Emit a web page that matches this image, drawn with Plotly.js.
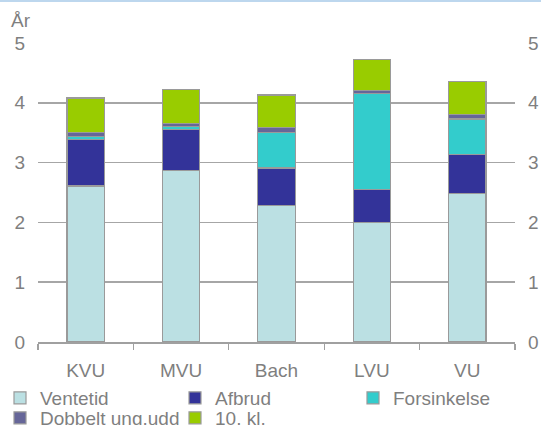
<!DOCTYPE html>
<html>
<head>
<meta charset="utf-8">
<script src="https://cdn.plot.ly/plotly-3.0.1.min.js"></script>
<style>
html,body{margin:0;padding:0;background:#fff;}
#topline{position:absolute;left:0;top:0;width:541px;height:2px;background:#BDD7EE;z-index:5;}
#chart{width:541px;height:425px;}
</style>
</head>
<body>
<div id="topline"></div>
<div id="chart"></div>
<script>
const categories = ["KVU", "MVU", "Bach", "LVU", "VU"];
const ventetid     = [2.61, 2.87, 2.28, 2.00, 2.49];
const afbrud       = [0.77, 0.68, 0.63, 0.55, 0.64];
const forsinkelse  = [0.05, 0.06, 0.59, 1.60, 0.60];
const dobbelt      = [0.08, 0.05, 0.09, 0.06, 0.08];
const tiende       = [0.57, 0.56, 0.54, 0.51, 0.54];
const seriesNames  = ["Ventetid", "Afbrud", "Forsinkelse", "Dobbelt ung.udd", "10. kl."];
const seriesColors = ["#BBE0E3", "#333399", "#33CCCC", "#666699", "#99CC00"];
const yTicks = [0, 1, 2, 3, 4, 5];

// legend placement (px in the 541x425 page) for each series entry
const legendIds = ["legend", "legend2", "legend3", "legend4", "legend5"];
const legendX   = [-2, 175, 353, -2, 175];
const legendY   = [379, 379, 379, 399, 399];

const seriesValues = [ventetid, afbrud, forsinkelse, dobbelt, tiende];
const traces = seriesValues.map((vals, i) => ({
  type: "bar",
  name: seriesNames[i],
  x: categories,
  y: vals,
  legend: legendIds[i],
  marker: {color: seriesColors[i], line: {color: "#9A9A9A", width: 1.2}},
  hoverinfo: "skip"
}));
// invisible trace for right axis
traces.push({type: "scatter", x: categories, y: [null,null,null,null,null], yaxis: "y2", showlegend: false, hoverinfo: "skip"});

const W = 541, H = 425;
const FAM = "Liberation Sans, Arial, sans-serif";
const tickFont = {family: FAM, size: 19, color: "#7F7F7F"};

const layout = {
  width: W, height: H,
  margin: {l: 38, r: 26, t: 43, b: 83, pad: 0},
  paper_bgcolor: "#fff", plot_bgcolor: "#fff",
  barmode: "stack",
  bargap: 0.606,
  font: tickFont,
  showlegend: true,
  xaxis: {
    type: "category",
    showgrid: false,
    showline: true, linecolor: "#A0A0A0", linewidth: 1.5,
    ticks: "outside", ticklen: 6, tickcolor: "#A0A0A0", tickwidth: 1.2,
    tickson: "boundaries",
    tickfont: tickFont,
    ticklabelstandoff: 11,
    zeroline: false,
    fixedrange: true
  },
  yaxis: {
    range: [0, 5],
    tickvals: yTicks,
    showgrid: true, gridcolor: "#A6A6A6", gridwidth: 1.5,
    zeroline: false, showline: false,
    ticks: "", tickfont: tickFont,
    ticklabelstandoff: 12,
    fixedrange: true
  },
  yaxis2: {
    range: [0, 5],
    tickvals: yTicks,
    overlaying: "y", side: "right",
    showgrid: false, zeroline: false, showline: false,
    ticks: "", tickfont: tickFont,
    ticklabelstandoff: 12,
    fixedrange: true
  },
  annotations: [{
    text: "År", xref: "paper", yref: "paper", x: -0.06, y: 1.032,
    xanchor: "left", yanchor: "bottom", showarrow: false,
    font: {family: FAM, size: 19, color: "#7F7F7F"}
  }]
};

legendIds.forEach((id, i) => {
  layout[id] = {
    orientation: "h",
    xref: "container", yref: "container",
    x: legendX[i] / W, y: 1 - legendY[i] / H,
    xanchor: "left", yanchor: "top",
    font: {family: FAM, size: 19, color: "#7F7F7F"},
    itemwidth: 30,
    bgcolor: "rgba(0,0,0,0)"
  };
});

Plotly.newPlot("chart", traces, layout, {displayModeBar: false, staticPlot: true});
</script>
</body>
</html>
